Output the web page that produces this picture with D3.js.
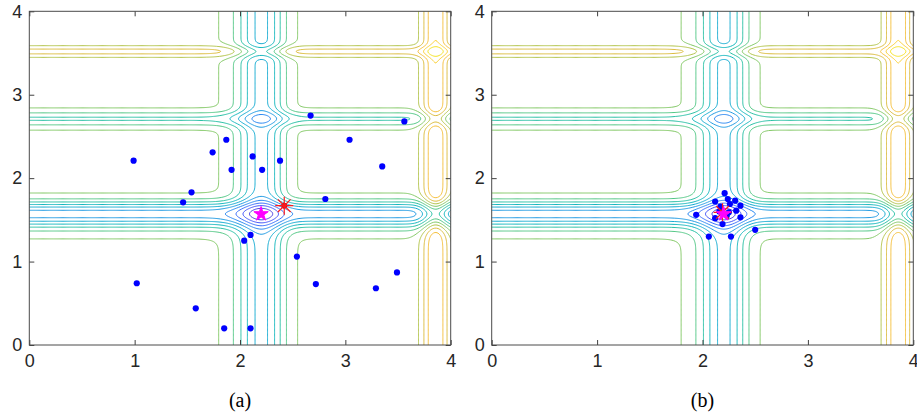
<!DOCTYPE html>
<html>
<head>
<meta charset="utf-8">
<script src="https://cdn.jsdelivr.net/npm/d3@7"></script>
<style>
  body { margin: 0; background: #fff; }
  svg { display: block; }
  .tick text { font-family: "Liberation Sans", Arial, sans-serif; font-size: 18px; fill: #262626; }
  .tick line { stroke: #404040; }
  .caption { font-family: "Liberation Serif", "DejaVu Serif", serif; font-size: 20px; fill: #000; }
</style>
</head>
<body>
<svg id="chart" width="917" height="415"></svg>
<script>
// axis ticks
var xTicks = [0, 1, 2, 3, 4];
var yTicks = [0, 1, 2, 3, 4];
var panelLabels = ['(a)', '(b)'];

// contour levels (15 evenly spaced levels)
var contourLevels = [-1.626, -1.450, -1.274, -1.098, -0.922, -0.746, -0.571, -0.395,
                     -0.219, -0.044, 0.132, 0.308, 0.484, 0.659, 0.835];
// colour range the levels are mapped on (min / max of the surface)
var colorDomain = [-1.801, 1.012];

// (a) scattered swarm
var swarmAX = [0.99, 1.02, 1.58, 1.85, 2.10, 2.04, 2.10, 1.46, 1.54, 1.74, 1.87, 1.92,
               2.12, 2.21, 2.38, 2.67, 3.56, 3.04, 3.35, 2.81, 2.54, 2.72, 3.29, 3.49];
var swarmAY = [2.21, 0.74, 0.44, 0.20, 0.20, 1.25, 1.32, 1.71, 1.83, 2.31, 2.46, 2.10,
               2.26, 2.10, 2.21, 2.75, 2.68, 2.46, 2.14, 1.75, 1.06, 0.73, 0.68, 0.87];
var bestA = [2.42, 1.67];

// (b) converged swarm
var swarmBX = [2.21, 2.12, 2.24, 2.31, 2.36, 2.26, 2.17, 2.32, 2.25, 1.94, 2.12, 2.36,
               2.19, 2.06, 2.27, 2.50, 2.16, 2.23];
var swarmBY = [1.82, 1.72, 1.75, 1.73, 1.67, 1.69, 1.66, 1.61, 1.59, 1.56, 1.52, 1.53,
               1.45, 1.30, 1.30, 1.38, 1.60, 1.55];
var bestB = [2.19, 1.59];

// global optimum (magenta star)
var optimum = [2.20, 1.57];

// parula colormap stops
var parula = ['#3e26a8', '#4743f0', '#3d64fd', '#2685f0', '#1ba0dd', '#0bb3c4', '#26bfa3',
              '#5fc87a', '#a4c64e', '#dbbb3d', '#fdc03a', '#f5dd29', '#f9fb15'];
var colorScale = d3.scaleLinear()
  .domain(parula.map(function(d, i) { return colorDomain[0] + i * (colorDomain[1] - colorDomain[0]) / (parula.length - 1); }))
  .range(parula)
  .interpolate(d3.interpolateRgb);

// background surface: 2-D Michalewicz function (m = 10)
function michalewicz(x, y) {
  return -(Math.sin(x) * Math.pow(Math.sin(x * x / Math.PI), 20) +
           Math.sin(y) * Math.pow(Math.sin(2 * y * y / Math.PI), 20));
}

// grid slightly bigger than the axes so the polygon borders fall outside the clip
var N = 411, g0 = -0.05, step = 0.01;
var values = new Float64Array(N * N);
for (var j = 0; j < N; j++) {
  for (var i = 0; i < N; i++) {
    values[j * N + i] = michalewicz(g0 + i * step, g0 + j * step);
  }
}
var contourSets = d3.contours().size([N, N]).thresholds(contourLevels)(values);

var svg = d3.select('#chart');

var panels = [
  { left: 29.3, right: 450.7, swarmX: swarmAX, swarmY: swarmAY, best: bestA, label: panelLabels[0] },
  { left: 491.7, right: 913.3, swarmX: swarmBX, swarmY: swarmBY, best: bestB, label: panelLabels[1] }
];
var plotTop = 11.3, plotBottom = 345;

panels.forEach(function(p, k) {
  var x = d3.scaleLinear().domain([0, 4]).range([p.left, p.right]);
  var y = d3.scaleLinear().domain([0, 4]).range([plotBottom, plotTop]);

  var clipId = 'clip' + k;
  svg.append('clipPath').attr('id', clipId)
    .append('rect')
    .attr('x', p.left).attr('y', plotTop)
    .attr('width', p.right - p.left).attr('height', plotBottom - plotTop);

  var g = svg.append('g');
  var plot = g.append('g').attr('clip-path', 'url(#' + clipId + ')');

  // grid coords -> data coords -> pixels (d3.contours puts sample i at i + 0.5)
  var path = d3.geoPath(d3.geoTransform({
    point: function(u, v) {
      this.stream.point(x(g0 + (u - 0.5) * step), y(g0 + (v - 0.5) * step));
    }
  }));

  plot.selectAll('path.contour')
    .data(contourSets)
    .enter().append('path')
    .attr('class', 'contour')
    .attr('d', path)
    .attr('fill', 'none')
    .attr('stroke', function(d) { return colorScale(d.value); })
    .attr('stroke-width', 1);

  // swarm particles
  plot.selectAll('circle.particle')
    .data(d3.range(p.swarmX.length))
    .enter().append('circle')
    .attr('class', 'particle')
    .attr('cx', function(i) { return x(p.swarmX[i]); })
    .attr('cy', function(i) { return y(p.swarmY[i]); })
    .attr('r', 3.1)
    .attr('fill', '#0000ff');

  // best particle: red asterisk
  var bx = x(p.best[0]), by = y(p.best[1]), r = 9;
  var ast = plot.append('g').attr('transform', 'translate(' + bx + ',' + by + ')');
  ast.append('circle').attr('r', 3).attr('fill', '#b5102e');
  [0, 45, 90, 135].forEach(function(a) {
    var rad = a * Math.PI / 180;
    ast.append('line')
      .attr('x1', -r * Math.cos(rad)).attr('y1', -r * Math.sin(rad))
      .attr('x2', r * Math.cos(rad)).attr('y2', r * Math.sin(rad))
      .attr('stroke', '#ff1a1a').attr('stroke-width', 1.2);
  });

  // global optimum: magenta pentagram
  plot.append('path')
    .attr('d', d3.symbol(d3.symbolStar, 64)())
    .attr('transform', 'translate(' + x(optimum[0]) + ',' + y(optimum[1]) + ')')
    .attr('fill', '#ff00ff')
    .attr('stroke', '#ff00ff')
    .attr('stroke-width', 1);

  // axes, matlab style: ticks inside, box on
  g.append('g').attr('transform', 'translate(0,' + plotBottom + ')')
    .call(d3.axisBottom(x).tickValues(xTicks).tickFormat(d3.format('d')).tickSize(-5).tickSizeOuter(0).tickPadding(9));
  g.append('g').attr('transform', 'translate(0,' + plotTop + ')')
    .call(d3.axisTop(x).tickValues(xTicks).tickFormat('').tickSize(-5).tickSizeOuter(0));
  g.append('g').attr('transform', 'translate(' + p.left + ',0)')
    .call(d3.axisLeft(y).tickValues(yTicks).tickFormat(d3.format('d')).tickSize(-5).tickSizeOuter(0).tickPadding(7));
  g.append('g').attr('transform', 'translate(' + p.right + ',0)')
    .call(d3.axisRight(y).tickValues(yTicks).tickFormat('').tickSize(-5).tickSizeOuter(0));
  g.selectAll('.domain').remove();

  g.append('rect')
    .attr('x', p.left).attr('y', plotTop)
    .attr('width', p.right - p.left).attr('height', plotBottom - plotTop)
    .attr('fill', 'none').attr('stroke', '#4a4a4a').attr('stroke-width', 1);

  g.append('text')
    .attr('class', 'caption')
    .attr('x', (p.left + p.right) / 2)
    .attr('y', 407)
    .attr('text-anchor', 'middle')
    .text(p.label);
});
</script>
</body>
</html>
